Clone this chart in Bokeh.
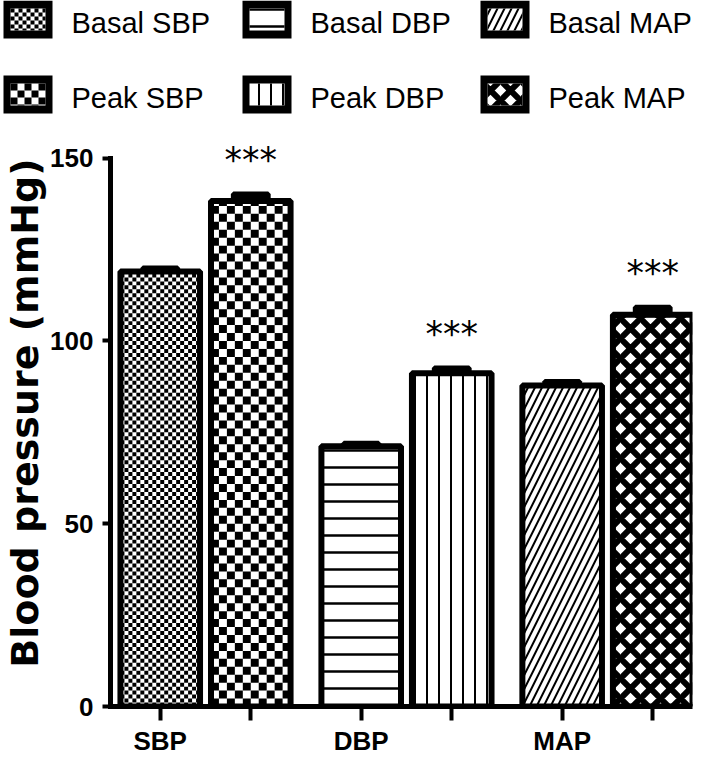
import numpy as np
from bokeh.plotting import figure
from bokeh.models import Range1d, FixedTicker
from bokeh.embed import file_html
from bokeh.resources import INLINE
from bokeh.core.properties import value

# ---------------- data ----------------
groups = ["SBP", "DBP", "MAP"]
series_names = ["Basal SBP", "Peak SBP", "Basal DBP", "Peak DBP", "Basal MAP", "Peak MAP"]
series_group = [0, 0, 1, 1, 2, 2]
series_slot = [0, 1, 0, 1, 0, 1]
means = [119.0, 138.3, 71.2, 91.2, 87.8, 107.2]
sems = [1.0, 1.9, 0.8, 1.4, 1.1, 2.0]
significance = ["", "***", "", "***", "", "***"]
y_ticks = [0, 50, 100, 150]
y_label = "Blood pressure (mmHg)"
legend_rows = [["Basal SBP", "Basal DBP", "Basal MAP"],
               ["Peak SBP", "Peak DBP", "Peak MAP"]]

# ---------------- styles ----------------
STYLE = {
    "Basal SBP": dict(kind="checker", cell=4),
    "Peak SBP": dict(kind="checker", cell=8),
    "Basal DBP": dict(kind="hatch", pattern="horizontal_line", scale=17, weight=2.5),
    "Peak DBP": dict(kind="hatch", pattern="vertical_line", scale=12, weight=2),
    "Basal MAP": dict(kind="hatch", pattern="right_diagonal_line", scale=14, weight=2),
    "Peak MAP": dict(kind="hatch", pattern="diagonal_cross", scale=20, weight=6),
}
LEG_CELL = {"Basal SBP": 4, "Peak SBP": 7}

# ---------------- layout ----------------
W = 693
LEG_H = 118
MAIN_H = 640
B_L, B_R, B_T, B_B = 107, 1, 1, 48
FRAME_W = W - B_L - B_R
FRAME_H = MAIN_H - B_T - B_B
PX_Y = 3.68
Y_MAX = FRAME_H / PX_Y
PX_X = 91.0
GROUP_STEP = 202 / PX_X
X_START = -50 / PX_X
X_END = X_START + FRAME_W / PX_X
BAR_W = 80 / PX_X
CAP_W = 35 / PX_X
OUTLINE = 6

xs = [g * GROUP_STEP + s for g, s in zip(series_group, series_slot)]


def checker(x0, x1, y0, y1, cw, ch):
    L, R, B, T = [], [], [], []
    nx = int(np.ceil((x1 - x0) / cw - 1e-9))
    ny = int(np.ceil((y1 - y0) / ch - 1e-9))
    for i in range(nx):
        for j in range(ny):
            if (i + j) % 2 == 0:
                l = x0 + i * cw
                b = y0 + j * ch
                L.append(l)
                R.append(min(l + cw, x1))
                B.append(b)
                T.append(min(b + ch, y1))
    return L, R, B, T


# ---------------- main figure ----------------
p = figure(width=W, height=MAIN_H,
           x_range=Range1d(X_START, X_END), y_range=Range1d(0, Y_MAX),
           output_backend="svg", toolbar_location=None,
           min_border_left=B_L, min_border_right=B_R,
           min_border_top=B_T, min_border_bottom=B_B)
p.grid.visible = False
p.outline_line_color = None
p.background_fill_color = "white"

for name, x, m in zip(series_names, xs, means):
    st = STYLE[name]
    if st["kind"] == "hatch":
        p.vbar(x=[x], top=[m], bottom=0, width=BAR_W, fill_color="white",
               line_color=None, hatch_pattern=st["pattern"], hatch_color="black",
               hatch_scale=st["scale"], hatch_weight=st["weight"])
    else:
        p.vbar(x=[x], top=[m], bottom=0, width=BAR_W, fill_color="white", line_color=None)
        c = st["cell"]
        L, R, B, T = checker(x - BAR_W / 2, x + BAR_W / 2, 0, m, c / PX_X, c / PX_Y)
        p.quad(left=L, right=R, bottom=B, top=T, fill_color="black", line_color=None)
    p.vbar(x=[x], top=[m], bottom=0, width=BAR_W, fill_color=None,
           line_color="black", line_width=OUTLINE)

# error caps
p.quad(left=[x - CAP_W / 2 for x in xs], right=[x + CAP_W / 2 for x in xs],
       bottom=means, top=[m + s for m, s in zip(means, sems)],
       fill_color="black", line_color="black", line_width=5)

# significance stars
p.text(x=xs, y=[m + s for m, s in zip(means, sems)], text=significance,
       text_align="center", text_baseline="middle", y_offset=-34,
       text_font=value("DejaVu Sans"), text_font_size="35px", text_color="black")

# x axis
xa = p.xaxis[0]
xa.ticker = FixedTicker(ticks=xs)
xa.major_label_overrides = {x: (groups[g] if s == 0 else "")
                            for x, g, s in zip(xs, series_group, series_slot)}
xa.axis_line_width = 5
xa.axis_line_color = "black"
xa.major_tick_line_width = 4
xa.major_tick_line_color = "black"
xa.major_tick_out = 14
xa.major_tick_in = 0
xa.minor_tick_out = 0
xa.minor_tick_in = 0
xa.major_label_text_font = "Liberation Sans"
xa.major_label_text_font_style = "bold"
xa.major_label_text_font_size = "26px"
xa.major_label_text_color = "black"
xa.major_label_standoff = 5

# y axis
ya = p.yaxis[0]
ya.ticker = FixedTicker(ticks=y_ticks)
ya.bounds = (0, 150)
ya.axis_line_width = 5
ya.axis_line_color = "black"
ya.axis_line_cap = "square"
ya.major_tick_line_width = 4
ya.major_tick_line_color = "black"
ya.major_tick_out = 8
ya.major_tick_in = 0
ya.minor_tick_out = 0
ya.minor_tick_in = 0
ya.major_label_text_font = "Liberation Sans"
ya.major_label_text_font_style = "bold"
ya.major_label_text_font_size = "26px"
ya.major_label_text_color = "black"
ya.major_label_standoff = 9
ya.axis_label = y_label
ya.axis_label_text_font = "DejaVu Sans"
ya.axis_label_text_font_style = "bold"
ya.axis_label_text_font_size = "38px"
ya.axis_label_text_color = "black"
ya.axis_label_standoff = 0

# ---------------- legend figure ----------------
LEG_COL_X = [3, 242, 480]
LEG_ROW_Y = [0, 75]
SW_W, SW_H = 49, 38
INSET_X, INSET_Y = 7, 8
TEXT_DX = 68

lg = figure(width=W, height=LEG_H, x_range=Range1d(0, W), y_range=Range1d(LEG_H, 0),
            output_backend="svg", toolbar_location=None, min_border=0)
lg.axis.visible = False
lg.grid.visible = False
lg.outline_line_color = None

for r, row in enumerate(legend_rows):
    for c, name in enumerate(row):
        x0 = LEG_COL_X[c]
        y0 = LEG_ROW_Y[r]
        lg.quad(left=[x0], right=[x0 + SW_W], top=[y0], bottom=[y0 + SW_H],
                fill_color="black", line_color=None)
        ix0, ix1 = x0 + INSET_X, x0 + SW_W - INSET_X
        iy0, iy1 = y0 + INSET_Y, y0 + SW_H - INSET_Y
        st = STYLE[name]
        if st["kind"] == "hatch":
            lg.quad(left=[ix0], right=[ix1], top=[iy0], bottom=[iy1],
                    fill_color="white", line_color=None, hatch_pattern=st["pattern"],
                    hatch_color="black", hatch_scale=st["scale"], hatch_weight=st["weight"])
        else:
            lg.quad(left=[ix0], right=[ix1], top=[iy0], bottom=[iy1],
                    fill_color="white", line_color=None)
            cc = LEG_CELL[name]
            L, R, B, T = checker(ix0, ix1, iy0, iy1, cc, cc)
            lg.quad(left=L, right=R, bottom=B, top=T, fill_color="black", line_color=None)
        lg.text(x=[x0 + TEXT_DX], y=[y0 + SW_H / 2 + 3], text=[name],
                text_align="left", text_baseline="middle",
                text_font=value("Liberation Sans"), text_font_size="29px",
                text_color="black")

open("out.html", "w").write(file_html([lg, p], INLINE))
